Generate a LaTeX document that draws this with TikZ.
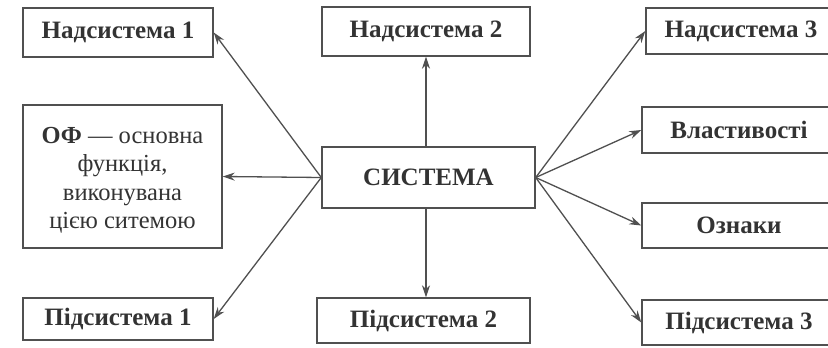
\documentclass[tikz,border=0pt]{standalone}
\usepackage{fontspec}
\setmainfont{Liberation Serif}
\usetikzlibrary{arrows.meta}
\definecolor{ink}{HTML}{505050}
\definecolor{txt}{HTML}{333333}
\tikzset{
  box/.style={draw=ink, line width=1.4pt, rectangle, inner sep=0pt, text=txt, font=\fontsize{25}{28}\selectfont\bfseries, align=center},
  plain/.style={inner sep=0pt, text=txt, align=center, font=\fontsize{24.5}{28.5}\selectfont},
  conn/.style={draw=ink, line width=1.3pt, -{Stealth[length=12pt,width=8pt]}}
}
\begin{document}
\begin{tikzpicture}[x=1pt,y=-1pt]
\useasboundingbox[fill=white] (0,0) rectangle (828,348);
\node[box, minimum width=190pt, minimum height=49pt] (n1) at (118,32.5) {Надсистема 1};
\node[box, minimum width=208pt, minimum height=49pt] (n2) at (426,31.5) {Надсистема 2};
\node[box, minimum width=190pt, minimum height=46pt] (n3) at (741,31) {Надсистема 3};
\node[box, minimum width=199pt, minimum height=143pt] (of) at (122.5,176.5) {};
\node[plain] (oft) at ([yshift=-4pt]of.center) {\textbf{ОФ} — основна\\функція,\\виконувана\\цією ситемою};
\node[box, minimum width=213pt, minimum height=61pt] (sys) at (428.5,177.5) {СИСТЕМА};
\node[box, minimum width=194pt, minimum height=46pt] (pr) at (739,130) {Властивості};
\node[box, minimum width=194pt, minimum height=45pt] (oz) at (739,225.5) {Ознаки};
\node[box, minimum width=190pt, minimum height=42pt] (p1) at (118,319) {Підсистема 1};
\node[box, minimum width=213pt, minimum height=45pt] (p2) at (423.5,320.5) {Підсистема 2};
\node[box, minimum width=194pt, minimum height=45pt] (p3) at (739,322.5) {Підсистема 3};
\draw[conn] (sys.west) -- (n1.east);
\draw[conn] (sys.west) -- (of.east);
\draw[conn] (sys.west) -- (p1.east);
\draw[conn] (sys.north -| n2.south) -- (n2.south);
\draw[conn] (sys.south -| 426,0) -- (p2.north -| 426,0);
\draw[conn] (sys.east) -- (n3.west);
\draw[conn] (sys.east) -- (pr.west);
\draw[conn] (sys.east) -- (oz.west);
\draw[conn] (sys.east) -- (p3.west);
\end{tikzpicture}
\end{document}
